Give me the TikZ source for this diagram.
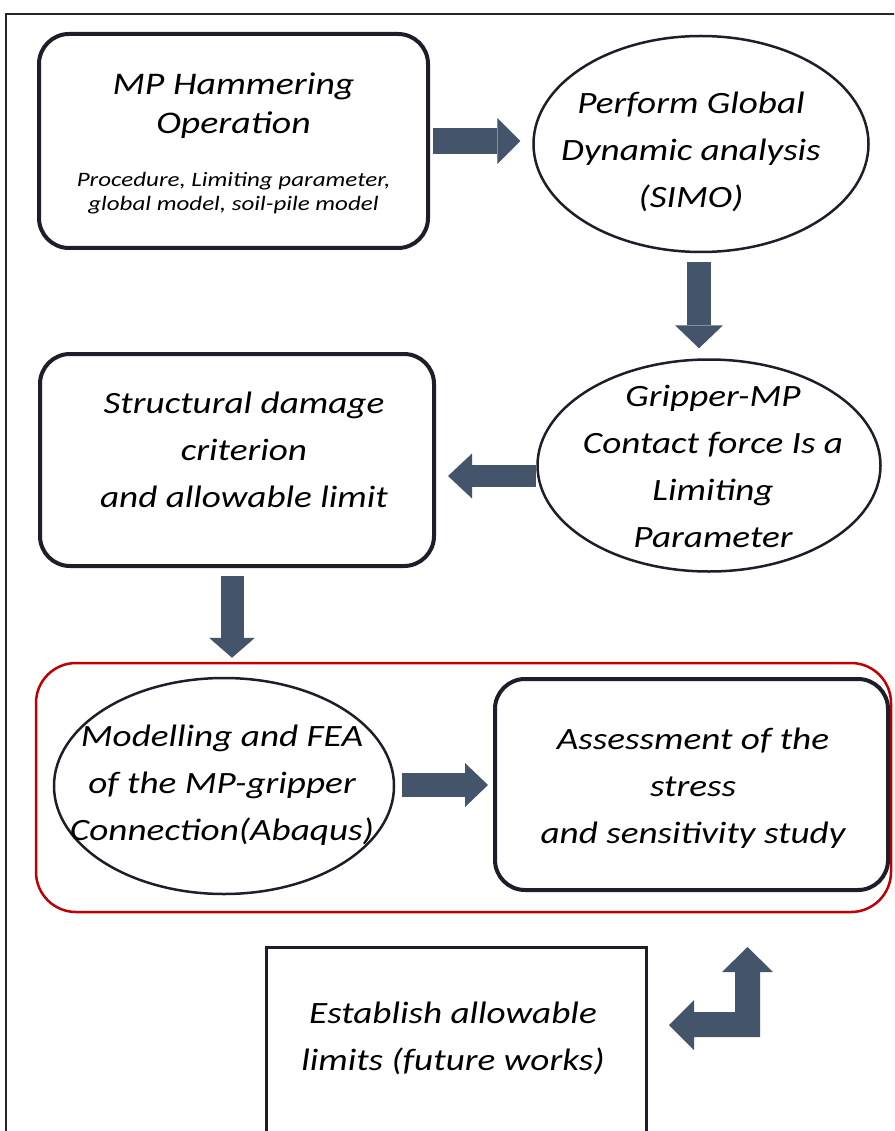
\documentclass[tikz,border=0pt]{standalone}
\usepackage{fontspec}
\setmainfont{Carlito}
\newfontfamily\widecal[FakeStretch=1.2]{Carlito}
\newfontfamily\widecalsub[FakeStretch=1.22]{Carlito}
\usetikzlibrary{shapes.geometric,arrows.meta,calc}
\definecolor{arrowc}{HTML}{44546A}
\definecolor{edgec}{HTML}{1E1E2A}
\definecolor{redc}{HTML}{C00000}
\begin{document}
\begin{tikzpicture}[x=1pt,y=-1pt,
  rbox/.style={draw=edgec,line width=4pt,rounded corners=30pt,inner sep=0pt},
  ebox/.style={ellipse,draw=edgec,line width=2.5pt,inner sep=0pt},
  sbox/.style={draw=edgec,line width=3pt,inner sep=0pt},
  grpbox/.style={draw=redc,line width=2.5pt,rounded corners=40pt,inner sep=0pt},
  txt/.style={font=\widecal\fontsize{31}{47}\selectfont\itshape,align=center,inner sep=0pt},
  titletxt/.style={font=\widecal\fontsize{31.5}{39}\selectfont\itshape,align=center,inner sep=0pt},
  subtxt/.style={font=\widecalsub\fontsize{20.5}{24}\selectfont\itshape,align=center,inner sep=0pt},
  blk/.style={draw=arrowc,line width=#1,line cap=butt}
]
\useasboundingbox (0,0) rectangle (894,1131);
\clip (0,0) rectangle (894,1131);
\fill[white] (0,0) rectangle (894,1131);
\draw[line width=2pt,black!85] (6,14) rectangle (910,1150);

% shapes
\node[rbox,minimum width=389pt,minimum height=214pt] (b1) at (233.5,141) {};
\node[ebox,minimum width=335pt,minimum height=216pt] (e1) at (701,144) {};
\node[rbox,minimum width=394pt,minimum height=212pt] (b2) at (237,460) {};
\node[ebox,minimum width=343pt,minimum height=212pt] (e2) at (709,465.5) {};
\node[grpbox,minimum width=855pt,minimum height=249pt] (grp) at (463.5,787.5) {};
\node[ebox,minimum width=340pt,minimum height=216pt] (e3) at (224,786) {};
\node[rbox,minimum width=393pt,minimum height=211pt] (b4) at (691.5,784.5) {};
\node[sbox,minimum width=380pt,minimum height=187pt] (b5) at (456.5,1041) {};

% texts
\node[titletxt] (t1) at (233.5,106) {MP Hammering\\Operation};
\node[subtxt] (t1s) at (233.5,193) {Procedure, Limiting parameter,\\global model, soil-pile model};
\node[txt] (t2) at (691,151.5) {Perform Global\\Dynamic analysis\\(SIMO)};
\node[txt] (t3) at (244,449.5) {Structural damage\\criterion\\and allowable limit};
\node[txt] (t4) at (713,466) {Gripper-MP\\Contact force Is a\\Limiting\\Parameter};
\node[txt] (t5) at (222,785.5) {Modelling and FEA\\of the MP-gripper\\Connection(Abaqus)};
\node[txt] (t6) at (693,788.5) {Assessment of the\\stress\\and sensitivity study};
\node[txt] (t7) at (453,1038) {Establish allowable\\limits (future works)};

% block arrows
\coordinate (a1s) at ($(b1.east)+(3,0)$);
\draw[blk=26pt,-{Triangle[length=23pt,width=46pt,line width=0pt]}] (a1s) -- ($(a1s -| e1.west)+(-12,0)$);
\coordinate (a2s) at ($(e1.south)+(-2,9)$);
\draw[blk=24pt,-{Triangle[length=23pt,width=48pt,line width=0pt]}] (a2s) -- ($(a2s |- e2.north)+(0,-10)$);
\coordinate (a3s) at ($(e2.west)+(0,10.5)$);
\draw[blk=22pt,-{Triangle[length=24pt,width=45pt,line width=0pt]}] (a3s) -- ($(b2.east |- a3s)+(12,0)$);
\coordinate (a4s) at ($(b2.south)+(-5,8)$);
\draw[blk=23pt,-{Triangle[length=20pt,width=46pt,line width=0pt]}] (a4s) -- ($(a4s |- grp.north)+(0,-4)$);
\coordinate (a5s) at ($(e3.east)+(7,-1)$);
\draw[blk=24pt,-{Triangle[length=23pt,width=44pt,line width=0pt]}] (a5s) -- ($(b4.west |- a5s)+(-5,0)$);

% bent double arrow between b5 and b4
\coordinate (bnd) at ($(b5.east)+(99.5,-16.5)$);
\begin{scope}[shift={(bnd)}]
\fill[arrowc] (0,-77.5) -- (25.5,-52.5) -- (12.5,-52.5) -- (12.5,12.5) -- (-53.5,12.5)
  -- (-53.5,25.5) -- (-78.5,0.5) -- (-53.5,-24.5) -- (-53.5,-12.5) -- (-12.5,-12.5)
  -- (-12.5,-52.5) -- (-25.5,-52.5) -- cycle;
\end{scope}
\end{tikzpicture}
\end{document}
